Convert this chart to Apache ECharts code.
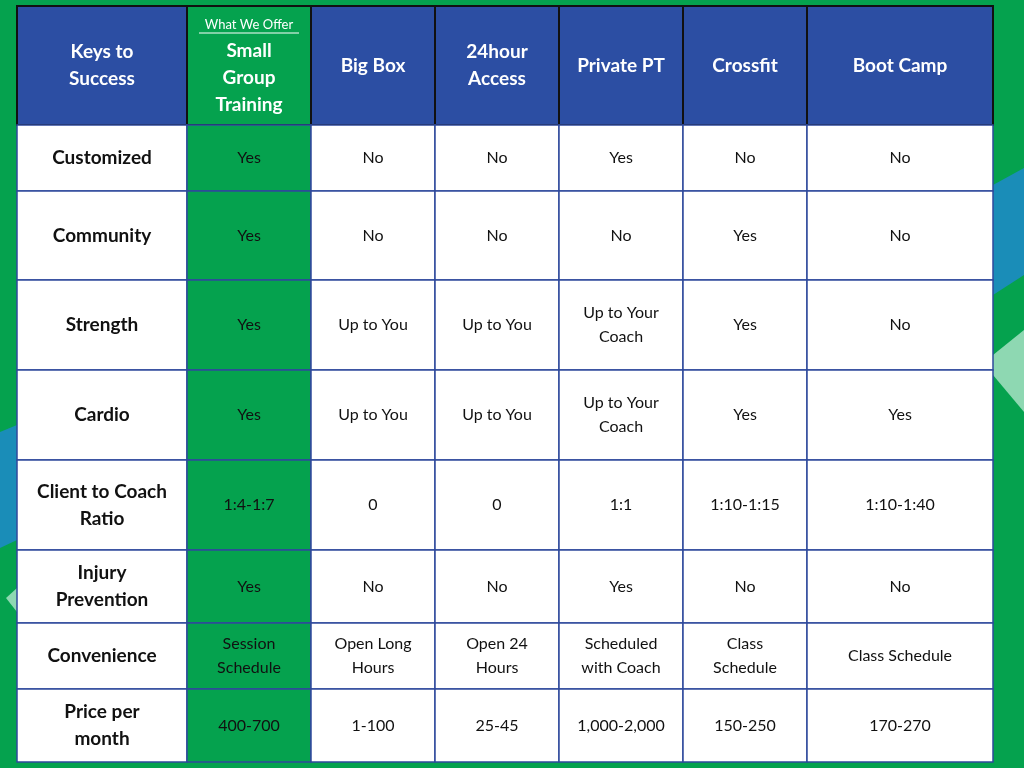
<!DOCTYPE html>
<html><head><meta charset="utf-8">
<script src="https://cdn.jsdelivr.net/npm/echarts@6/dist/echarts.min.js"></script>
<style>html,body{margin:0;padding:0;background:#06a04d}#c{width:1024px;height:768px}</style>
</head><body><div id="c"></div>
<script>
const headers = ["Keys to\nSuccess", "Small\nGroup\nTraining", "Big Box", "24hour\nAccess", "Private PT", "Crossfit", "Boot Camp"];
const rowLabels = ["Customized", "Community", "Strength", "Cardio", "Client to Coach\nRatio", "Injury\nPrevention", "Convenience", "Price per\nmonth"];
const smallGroup = ["Yes", "Yes", "Yes", "Yes", "1:4-1:7", "Yes", "Session\nSchedule", "400-700"];
const bigBox = ["No", "No", "Up to You", "Up to You", "0", "No", "Open Long\nHours", "1-100"];
const access24 = ["No", "No", "Up to You", "Up to You", "0", "No", "Open 24\nHours", "25-45"];
const privatePT = ["Yes", "No", "Up to Your\nCoach", "Up to Your\nCoach", "1:1", "Yes", "Scheduled\nwith Coach", "1,000-2,000"];
const crossfit = ["No", "Yes", "Yes", "Yes", "1:10-1:15", "No", "Class\nSchedule", "150-250"];
const bootCamp = ["No", "No", "No", "Yes", "1:10-1:40", "No", "Class Schedule", "170-270"];

// layout (relative sizes)
const colW = [170,124,124,124,124,124,186];
const rowH = [119,66,89,90,90,90,73,66,73];
const xs=[0]; colW.forEach(w=>xs.push(xs[xs.length-1]+w));
const ys=[0]; rowH.forEach(h=>ys.push(ys[ys.length-1]+h));

const cols=[rowLabels,smallGroup,bigBox,access24,privatePT,crossfit,bootCamp];
const data=[];
headers.forEach((h,c)=>data.push([c,0,h]));
for(let r=0;r<rowLabels.length;r++) for(let c=0;c<7;c++) data.push([c,r+1,cols[c][r]]);

const BLUE='#2c4ea3', GREEN='#05a24e', LINE='#2f4a9c';
const chart=echarts.init(document.getElementById('c'));
chart.setOption({
  backgroundColor:GREEN,
  animation:false,
  graphic:[
    {type:'polygon',z:-1,shape:{points:[[993,185],[1024,168],[1024,275],[993,295]]},style:{fill:'#1a8db8'}},
    {type:'polygon',z:-1,shape:{points:[[993,355],[1024,330],[1024,412],[993,375]]},style:{fill:'#8ed8b2'}},
    {type:'polygon',z:-1,shape:{points:[[0,432],[17,425],[17,540],[0,548]]},style:{fill:'#1a8db8'}},
    {type:'polygon',z:-1,shape:{points:[[6,598],[17,588],[17,612]]},style:{fill:'#8ed8b2'}}
  ],
  grid:{left:17,top:6,width:976,height:756},
  xAxis:{type:'value',min:0,max:xs[7],show:false},
  yAxis:{type:'value',min:0,max:ys[9],inverse:true,show:false},
  series:[{
    type:'custom',
    data:data,
    renderItem:(p,api)=>{
      const c=api.value(0), r=api.value(1), txt=data[p.dataIndex][2];
      const a=api.coord([xs[c],ys[r]]), b=api.coord([xs[c+1],ys[r+1]]);
      const header=r===0, green=c===1, label=c===0;
      let fill = header&&!green ? BLUE : (green?GREEN:'#fff');
      const children=[{type:'rect',shape:{x:a[0],y:a[1],width:b[0]-a[0],height:b[1]-a[1]},
        style:{fill:fill,stroke:header?'#111':LINE,lineWidth:header?2:1.5}}];
      const cx=(a[0]+b[0])/2, cy=(a[1]+b[1])/2;
      let font, color='#111';
      if(header){font='bold 19px Lato, "Open Sans", sans-serif';color='#fff';}
      else if(label){font='bold 19px Lato, "Open Sans", sans-serif';}
      else font='16px Lato, "Open Sans", sans-serif';
      children.push({type:'text',style:{text:txt,x:cx,y:header&&green?cy+12:cy,align:'center',verticalAlign:'middle',
        font:font,fill:color,lineHeight:header?27:(label?27:24)}});
      if(header&&green){
        children.push({type:'text',style:{text:'What We Offer',x:cx,y:a[1]+19,align:'center',verticalAlign:'middle',font:'13px Lato, sans-serif',fill:'#fff'}});
        children.push({type:'line',shape:{x1:cx-50,y1:a[1]+27,x2:cx+50,y2:a[1]+27},style:{stroke:'#fff',lineWidth:1}});
      }
      return {type:'group',children};
    }
  }]
});
</script></body></html>
